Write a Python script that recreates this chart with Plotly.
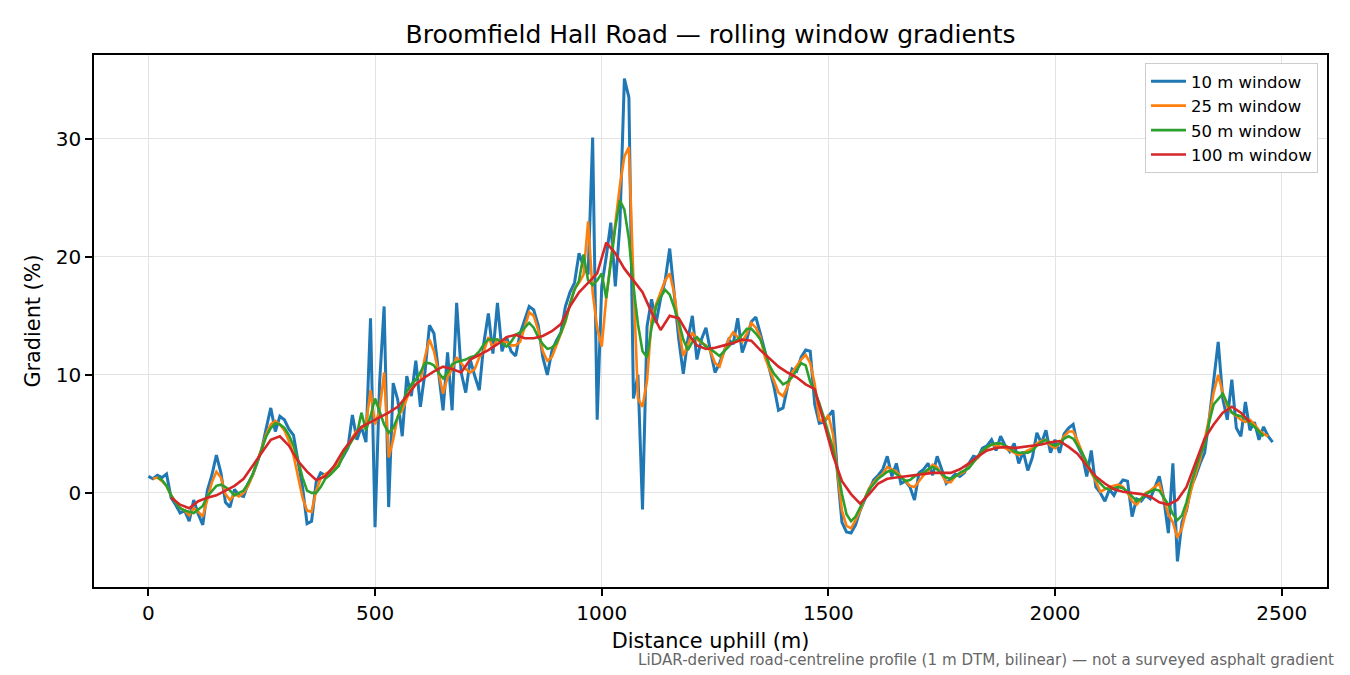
import plotly.graph_objects as go

# distance grids (m) for each rolling window
dist_10 = list(range(0, 2490, 10))
dist_25 = list(range(10, 2480, 10))
dist_50 = list(range(20, 2470, 10))
dist_100 = list(range(50, 2440, 20))

grad_10 = [
    1.4, 1.2, 1.5, 1.3, 1.6, -0.4, -1.0, -1.7, -1.5, -2.4,
    -0.6, -1.8, -2.7, 0.2, 1.5, 3.2, 1.7, -0.8, -1.2, 0.3,
    -0.2, -0.3, 0.8, 1.5, 2.6, 3.7, 5.5, 7.2, 5.2, 6.5,
    6.2, 5.4, 4.9, 2.8, 0.5, -2.6, -2.4, 0.9, 1.7, 1.5,
    1.8, 2.2, 2.5, 3.1, 3.8, 6.6, 4.5, 5.6, 4.3, 14.8,
    -2.9, 9.3, 15.8, -1.2, 9.3, 7.9, 4.8, 9.9, 8.2, 11.2,
    7.3, 10.2, 14.2, 13.5, 10.0, 7.0, 11.9, 7.0, 16.1, 10.2,
    8.5, 11.3, 9.9, 8.7, 12.7, 15.2, 11.8, 16.1, 12.0, 13.2,
    12.0, 11.6, 13.5, 14.6, 15.8, 15.5, 14.2, 11.5, 10.0, 12.0,
    12.9, 13.6, 15.8, 17.0, 17.8, 20.3, 19.2, 18.5, 30.1, 6.2,
    17.5, 20.0, 22.9, 17.5, 22.6, 35.1, 33.5, 8.0, 10.0, -1.4,
    14.1, 16.4, 14.4, 16.5, 18.0, 20.7, 17.0, 13.0, 10.1, 13.0,
    15.0, 11.3, 13.0, 14.0, 12.0, 10.2, 11.0, 12.0, 13.0, 12.6,
    14.8, 11.9, 13.0, 14.5, 14.9, 13.5, 12.0, 10.5, 9.0, 7.0,
    7.2, 9.0, 10.5, 10.3, 11.5, 12.1, 12.0, 7.5, 5.9, 6.0,
    6.5, 7.0, 1.7, -2.5, -3.3, -3.4, -2.7, -1.5, -0.6, 0.3,
    1.1, 1.5, 2.0, 3.1, 1.4, 2.5, 0.8, 1.0, 0.5, -0.6,
    1.7, 2.0, 2.5, 1.5, 3.1, 2.0, 0.8, 1.2, 1.6, 1.4,
    1.7, 2.5, 3.1, 3.0, 3.8, 4.0, 4.5, 3.6, 4.8, 4.0,
    3.5, 4.2, 2.5, 3.5, 1.9, 3.0, 5.1, 4.2, 5.3, 3.4,
    4.5, 3.4, 5.0, 5.5, 5.8, 4.0, 3.2, 1.4, 3.6, 0.5,
    0.0, -0.7, 0.3, -0.2, 0.6, 1.1, 1.0, -2.0, -0.5, -0.7,
    -0.2, -0.5, 0.4, 1.4, -0.5, -3.4, 2.5, -5.8, -2.5, -1.5,
    0.5, 1.4, 2.5, 3.4, 6.2, 9.5, 12.8, 8.0, 6.2, 9.6,
    5.5, 4.8, 7.7, 5.3, 6.0, 4.5, 5.6, 4.8, 4.3,
]

grad_25 = [
    1.2, 1.3, 1.0, 0.6, -0.2, -0.8, -1.3, -1.5, -1.9, -1.3,
    -1.6, -2.0, -0.6, 0.9, 1.8, 1.3, -0.1, -0.6, -0.1, -0.3,
    0.0, 0.6, 1.5, 2.6, 3.8, 5.0, 5.8, 6.1, 5.8, 5.3,
    4.4, 3.2, 1.5, -0.4, -1.5, -1.6, 0.2, 1.2, 1.6, 1.8,
    2.0, 2.5, 3.3, 4.0, 4.7, 5.3, 5.5, 5.8, 8.7, 5.8,
    7.0, 10.2, 3.0, 4.5, 6.5, 7.0, 8.0, 8.8, 9.2, 9.5,
    11.5, 13.0, 12.0, 10.3, 8.4, 9.8, 10.5, 11.5, 11.0, 10.5,
    10.2, 10.5, 11.5, 12.0, 13.2, 12.3, 13.0, 12.8, 12.8, 12.5,
    12.5, 12.8, 14.0, 15.3, 15.0, 13.8, 12.0, 11.2, 11.5, 12.5,
    13.5, 14.5, 16.0, 17.3, 17.8, 18.5, 23.0, 17.0, 14.0, 12.4,
    16.5, 19.7, 23.0, 26.0, 28.5, 29.3, 18.0, 8.0, 7.3, 9.5,
    14.7, 16.0, 17.0, 18.0, 18.6, 16.9, 14.0, 11.6, 12.5, 13.6,
    13.0, 12.7, 12.5, 12.0, 11.0, 10.7, 12.0, 13.0, 13.6, 13.2,
    12.8, 13.5, 14.4, 14.0, 13.2, 11.5, 10.5, 9.6, 8.5, 8.2,
    9.0, 10.2, 10.8, 11.3, 11.7, 11.0, 9.2, 6.2, 6.0, 6.6,
    5.0, 1.5, -1.5, -2.8, -3.0, -2.3, -1.5, -0.5, 0.4, 0.9,
    1.3, 1.6, 2.2, 2.0, 1.8, 1.4, 1.0, 0.6, 0.5, 1.0,
    1.5, 1.8, 2.4, 2.2, 1.5, 0.9, 0.9, 1.4, 1.6, 1.8,
    2.2, 2.6, 3.0, 3.4, 3.8, 4.1, 4.0, 3.9, 3.8, 3.6,
    3.4, 3.2, 3.4, 3.6, 3.8, 4.2, 4.4, 4.5, 4.0, 3.8,
    4.2, 4.8, 5.2, 5.2, 4.4, 3.4, 2.3, 1.7, 1.0, 0.1,
    0.3, 0.5, 0.6, 0.7, 0.5, 0.0, -0.7, -1.0, -0.5, 0.0,
    0.2, 0.5, 0.8, -0.5, -1.8, -2.5, -3.8, -3.0, -1.3, 0.2,
    1.6, 2.8, 4.5, 6.3, 8.5, 10.0, 8.5, 7.3, 6.8, 6.5,
    6.2, 6.0, 6.2, 5.8, 5.3, 5.0, 4.8,
]

grad_50 = [
    1.3, 1.1, 0.6, -0.2, -0.8, -1.3, -1.5, -1.6, -1.7, -1.4,
    -1.1, -0.3, 0.2, 0.6, 0.7, 0.5, 0.2, -0.2, 0.0, 0.2,
    0.8, 1.6, 2.6, 3.8, 4.8, 5.5, 5.9, 5.8, 5.5, 4.9,
    4.0, 2.8, 1.3, 0.2, 0.0, 0.0, 0.5, 1.2, 1.5, 1.9,
    2.3, 3.2, 3.9, 4.5, 5.0, 6.8, 5.3, 6.5, 8.0, 6.8,
    5.8, 5.1, 5.5, 6.4, 7.5, 8.6, 9.2, 9.6, 10.2, 11.0,
    11.0, 10.8, 10.2, 9.7, 10.2, 10.9, 11.1, 11.2, 11.3, 11.5,
    11.6, 12.0, 12.6, 13.0, 13.0, 13.0, 12.7, 12.4, 12.8, 13.4,
    13.6, 14.0, 14.4, 14.0, 13.2, 12.6, 12.2, 12.3, 12.7, 13.6,
    14.6, 16.0, 17.2, 18.0, 20.2, 18.0, 17.6, 18.0, 18.6, 16.5,
    19.5, 22.5, 24.8, 24.0, 21.5, 17.5, 14.3, 12.0, 11.5, 14.0,
    15.8, 16.6, 17.2, 16.8, 15.7, 14.5, 13.0, 12.1, 12.8, 13.2,
    12.8, 12.4, 12.2, 11.9, 11.6, 12.0, 12.4, 12.8, 13.0, 13.4,
    13.9, 13.9, 13.5, 13.0, 12.0, 10.8, 10.1, 9.6, 9.2, 9.4,
    9.8, 10.4, 11.0, 10.8, 9.4, 8.6, 7.6, 6.4, 5.0, 3.8,
    2.0, -0.1, -1.8, -2.4, -2.0, -1.3, -0.5, 0.3, 0.8, 1.2,
    1.5, 1.8, 1.9, 1.6, 1.3, 1.0, 1.1, 1.4, 1.6, 1.7,
    2.0, 2.2, 2.0, 1.6, 1.3, 1.2, 1.4, 1.7, 1.9, 2.1,
    2.6, 3.1, 3.6, 3.9, 4.1, 4.2, 4.2, 4.0, 3.8, 3.5,
    3.4, 3.4, 3.4, 3.6, 4.0, 4.3, 4.5, 4.2, 4.0, 4.2,
    4.6, 4.8, 4.6, 4.0, 3.4, 2.6, 1.8, 1.2, 0.8, 0.4,
    0.3, 0.4, 0.5, 0.4, 0.1, -0.3, -0.7, -0.5, -0.1, 0.1,
    0.3, 0.2, -0.4, -1.0, -1.8, -2.3, -1.9, -0.8, 0.8, 2.0,
    3.2, 4.0, 6.0, 7.5, 8.0, 8.4, 7.6, 6.8, 6.6, 6.5,
    6.3, 5.9, 5.6, 5.2, 4.8,
]

grad_100 = [
    -0.4, -1.0, -1.3, -0.7, -0.4, -0.2, 0.2, 0.6, 1.2, 2.3,
    3.5, 4.5, 4.8, 4.0, 2.7, 1.8, 1.1, 1.4, 2.3, 3.6,
    4.6, 5.6, 6.0, 6.4, 6.8, 7.3, 8.2, 9.2, 9.8, 10.3,
    10.7, 10.5, 10.2, 11.3, 11.7, 12.1, 12.6, 13.2, 13.4, 13.1,
    13.1, 13.3, 13.7, 14.3, 15.8, 17.0, 17.8, 18.6, 21.2, 20.3,
    19.0, 18.0, 17.0, 15.3, 13.8, 15.0, 14.8, 13.5, 12.5, 12.2,
    12.3, 12.5, 12.7, 13.0, 12.9, 12.1, 11.4, 10.7, 10.2, 9.8,
    9.2, 8.8, 6.0, 3.2, 1.0, -0.1, -0.9, -0.1, 0.8, 1.2,
    1.3, 1.4, 1.5, 1.6, 1.7, 1.7, 1.7, 2.0, 2.5, 3.1,
    3.6, 3.8, 3.9, 3.8, 3.9, 4.0, 4.1, 4.3, 4.4, 3.9,
    3.3, 2.3, 1.4, 0.8, 0.3, 0.1, 0.0, -0.1, -0.3, -0.8,
    -1.0, -0.6, 0.5, 2.5, 4.6, 5.8, 6.8, 7.3, 6.8, 6.0,
]

series = [
    ('10 m window', dist_10, grad_10, '#1f77b4', 3.0),
    ('25 m window', dist_25, grad_25, '#ff7f0e', 2.6),
    ('50 m window', dist_50, grad_50, '#2ca02c', 2.6),
    ('100 m window', dist_100, grad_100, '#d62728', 2.6),
]

fig = go.Figure()
for name, xs, ys, colour, width in series:
    fig.add_trace(go.Scatter(x=xs, y=ys, mode='lines', name=name,
                             line=dict(color=colour, width=width)))

axis_style = dict(showline=True, linecolor='black', linewidth=1.5, mirror=True,
                  ticks='outside', ticklen=7, tickwidth=1.5, tickcolor='black',
                  showgrid=True, gridcolor='#e3e3e3', gridwidth=1, zeroline=False,
                  tickfont=dict(size=20, color='black'))

fig.update_layout(
    width=1350, height=675,
    paper_bgcolor='white', plot_bgcolor='white',
    font=dict(family='DejaVu Sans', color='black'),
    margin=dict(l=86, r=31, t=47, b=96),
    title=dict(text='Broomfield Hall Road \u2014 rolling window gradients',
               xref='paper', x=0.5, xanchor='center', y=0.9615, yanchor='middle',
               font=dict(size=25)),
    legend=dict(x=0.9927, y=0.985, xanchor='right', yanchor='top',
                bgcolor='white', bordercolor='#cccccc', borderwidth=1,
                itemwidth=35, font=dict(size=16.5)),
    showlegend=True,
)
fig.update_xaxes(range=[-120, 2600], tickvals=[0, 500, 1000, 1500, 2000, 2500],
                 title=dict(text='Distance uphill (m)', font=dict(size=20.8), standoff=10),
                 **axis_style)
fig.update_yaxes(range=[-7.97, 37.1], tickvals=[0, 10, 20, 30],
                 title=dict(text='Gradient (%)', font=dict(size=20.8), standoff=10),
                 **axis_style)

fig.add_annotation(text='LiDAR-derived road-centreline profile (1 m DTM, bilinear) \u2014 '
                        'not a surveyed asphalt gradient',
                   xref='paper', yref='paper', x=1.0073, y=-0.137,
                   xanchor='right', yanchor='middle', showarrow=False,
                   font=dict(size=15.1, color='#666666'))

fig.write_html('out.html')
